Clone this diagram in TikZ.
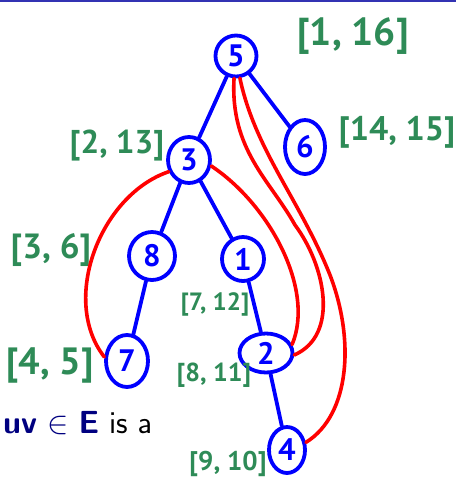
\RequirePackage{fix-cm}
\documentclass[tikz,border=0pt]{standalone}
\usepackage{fontspec}
\usepackage{tikz}
\usetikzlibrary{shapes.geometric}
\newfontfamily\handfont{PT Sans}
\definecolor{treeblue}{HTML}{0000FF}
\definecolor{backred}{HTML}{FF0000}
\definecolor{stampgreen}{HTML}{2E8B57}
\definecolor{barblue}{HTML}{3333B3}
\definecolor{navy}{HTML}{000080}

\begin{document}
\begin{tikzpicture}[
    x=1pt, y=-1pt,
    vert/.style={draw=treeblue, ellipse, line width=3.8pt, inner sep=0pt, text=treeblue, font=\handfont\bfseries\fontsize{31}{31}\selectfont, minimum width=42pt, minimum height=46pt},
    stamp/.style={text=stampgreen, inner sep=0pt, font=\handfont\bfseries\fontsize{#1}{#1}\selectfont},
    tree/.style={treeblue, line width=3.8pt, line cap=round},
    back/.style={backred, line width=3.6pt, line cap=round}
  ]
    \useasboundingbox (0,0) rectangle (456,493);
    \fill[barblue] (0,0) rectangle (456,2);

    % dfs tree
    \node[vert, minimum width=41pt, minimum height=41pt] (n5) at (236,56) {5};
    \node[vert, minimum width=40pt, minimum height=54pt] (n6) at (305,147) {6};
    \node[vert] (n3) at (189,160) {3};
    \node[vert, minimum width=46pt, minimum height=48pt] (n8) at (152,256) {8};
    \node[vert, minimum height=44pt] (n1) at (243,259) {1};
    \node[vert, minimum height=52pt] (n7) at (127,361) {7};
    \node[vert, minimum width=53pt, minimum height=39pt] (n2) at (266,353) {2};
    \node[vert, minimum width=36pt] (n4) at (287,450) {4};

    % pre/post numbers
    \node[stamp=39] (iv5) at (353,36) {[1, 16]};
    \node[stamp=34] (iv6) at (397,132) {[14, 15]};
    \node[stamp=33] (iv3) at (117,146) {[2, 13]};
    \node[stamp=35] (iv8) at (51,250) {[3, 6]};
    \node[stamp=38] (iv7) at (50,365) {[4, 5]};
    \node[stamp=25] (iv1) at (215,304) {[7, 12]};
    \node[stamp=26] (iv2) at (214,375) {[8, 11]};
    \node[stamp=27] (iv4) at (228,464) {[9, 10]};

    \node[anchor=base west, inner sep=0pt, font=\sffamily\fontsize{32}{32}\selectfont] (rule) at (3,433)
      {\textcolor{navy}{\textbf{uv} $\in$ \textbf{E}} is a};

    % back edges
    \draw[back] (n3.210) .. controls (100,195) and (60,300) .. (n7.170);
    \draw[back] (n3.345) .. controls (270,205) and (315,290) .. (n2.18);
    \draw[back] (n5.265) .. controls (230,150) and (270,180) .. (295,225)
                         .. controls (325,265) and (340,335) .. (n2.356);
    \draw[back] (n5.280) .. controls (255,150) and (300,200) .. (330,275)
                         .. controls (355,340) and (350,415) .. (n4.22);

    % tree edges
    \draw[tree] (n5) -- (n3);
    \draw[tree] (n5) -- (n6);
    \draw[tree] (n3) -- (n8);
    \draw[tree] (n3) -- (n1);
    \draw[tree] (n8) -- (n7);
    \draw[tree] (n1) -- (n2);
    \draw[tree] (n2) -- (n4);
\end{tikzpicture}
\end{document}
